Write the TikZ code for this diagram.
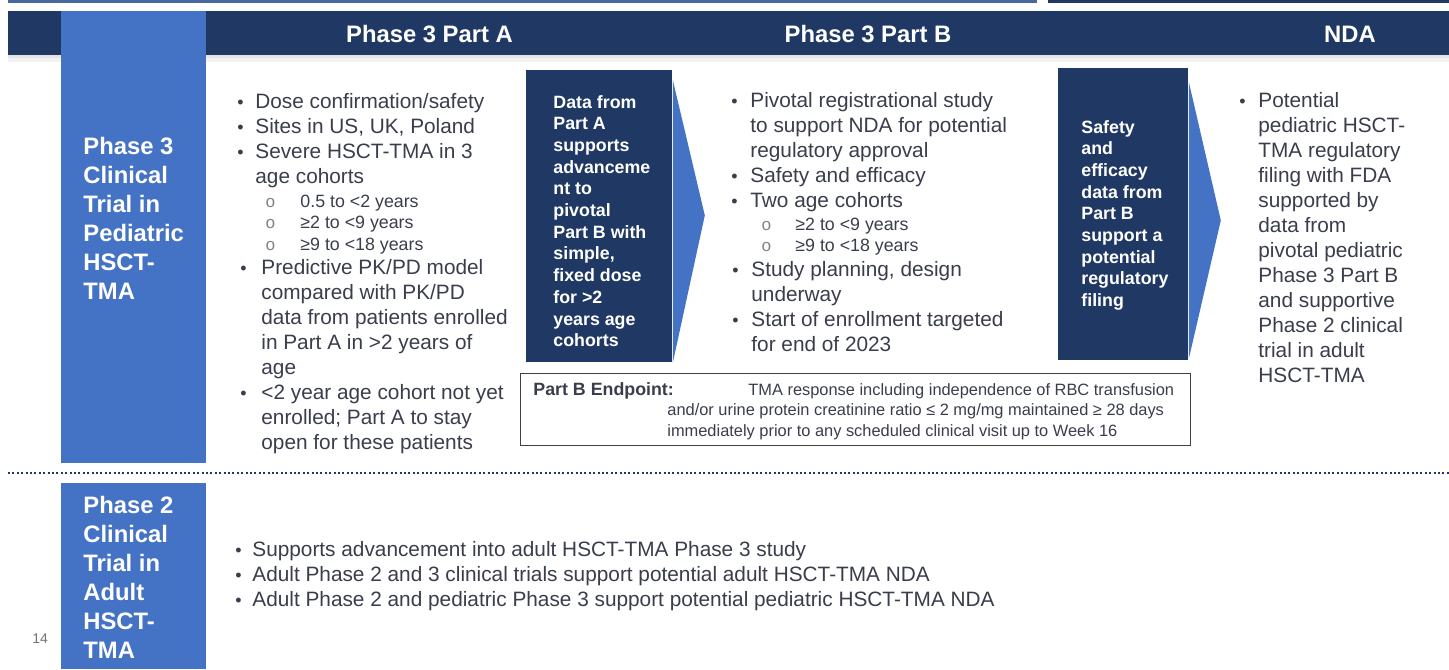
\documentclass[tikz,border=0pt]{standalone}
\usepackage{fontspec}
\setmainfont{Liberation Sans}
\setmonofont{Liberation Mono}
\usetikzlibrary{positioning,calc}

\definecolor{navy}{RGB}{31,56,100}
\definecolor{midblue}{RGB}{68,114,196}
\definecolor{topblue}{RGB}{74,104,160}
\definecolor{bodytext}{RGB}{58,62,76}

% lines stacked from the first baseline down
\newcommand{\leftlines}[1]{\begin{tabular}[t]{@{}l@{}}#1\end{tabular}}

\begin{document}
\begin{tikzpicture}[
    x=0.5pt, y=-0.5pt,
    sidebar/.style={fill=midblue, draw=none, inner sep=0pt, minimum width=72.5pt, anchor=north west},
    stepbox/.style={fill=navy, draw=none, inner sep=0pt, minimum height=146pt, anchor=north west},
    frame/.style={draw=black!75, line width=0.7pt, inner sep=0pt, anchor=north west},
    head/.style={text=white, font=\fontsize{11.9}{14}\selectfont\bfseries, inner sep=0pt, anchor=base},
    side/.style={text=white, font=\fontsize{11.9}{14.5}\selectfont\bfseries, inner sep=0pt, anchor=base west},
    boxtext/.style={text=white, font=\fontsize{8.9}{10.85}\selectfont\bfseries, inner sep=0pt, anchor=base west},
    item/.style={text=bodytext, font=\fontsize{10.4}{12.5}\selectfont, inner sep=0pt, anchor=base west},
    dot/.style={text=bodytext, font=\fontsize{9}{12}\selectfont, inner sep=0pt, anchor=base west},
    subitem/.style={text=bodytext, font=\fontsize{8.9}{10.75}\selectfont, inner sep=0pt, anchor=base west},
    ring/.style={text=bodytext!65, font=\ttfamily\fontsize{8.5}{9}\selectfont, inner sep=0pt, anchor=base west},
    note/.style={text=bodytext, font=\fontsize{8.2}{10.25}\selectfont, inner sep=0pt, anchor=base west}
]
    \useasboundingbox (0,0) rectangle (1449,669);
    \fill[white] (0,0) rectangle (1449,669);

    % top rules and header band
    \draw[topblue, line width=1.2pt] (8,1.5) -- (1037,1.5);
    \draw[navy, line width=1.2pt] (1048,1.5) -- (1449,1.5);
    \fill[navy] (8,11) rectangle (1449,55);
    \fill[black, opacity=0.10] (8,55) rectangle (1449,58);
    \fill[black, opacity=0.05] (8,58) rectangle (1449,62);

    \node[head] (hA) at (429.5,42) {Phase 3 Part A};
    \node[head] (hB) at (868,42) {Phase 3 Part B};
    \node[head] (hN) at (1350,42) {NDA};

    % left columns
    \node[sidebar, minimum height=226pt] (colA) at (61,11) {};
    \node[side] (sA) at ($(colA.north west)+(22,143)$) {\leftlines{Phase 3\\Clinical\\Trial in\\Pediatric\\HSCT-\\TMA}};
    \node[sidebar, minimum height=93pt] (colB) at (61,483) {};
    \node[side] (sB) at ($(colB.north west)+(22,30)$) {\leftlines{Phase 2\\Clinical\\Trial in\\Adult\\HSCT-\\TMA}};
    \node[text=black!55, font=\fontsize{7}{8}\selectfont, inner sep=0pt, anchor=base west] (pg) at (32,643) {14};

    % Part A
    \node[dot] (dA1) at (237,108) {•};
    \node[item] (iA1) at (255,108) {Dose confirmation/safety};
    \node[dot] (dA2) at (237,133) {•};
    \node[item] (iA2) at (255,133) {Sites in US, UK, Poland};
    \node[dot] (dA3) at (237,158) {•};
    \node[item] (iA3) at (255,158) {\leftlines{Severe HSCT-TMA in 3\\age cohorts}};
    \foreach \y/\t in {207/{0.5 to <2 years}, 228/{≥2 to <9 years}, 250/{≥9 to <18 years}} {
        \node[ring] (rA\y) at (265,\y) {o};
        \node[subitem] (uA\y) at (300,\y) {\t};
    }
    \node[dot] (dA4) at (240,274) {•};
    \node[item] (iA4) at (261,274) {\leftlines{Predictive PK/PD model\\compared with PK/PD\\data from patients enrolled\\in Part A in >2 years of\\age}};
    \node[dot] (dA5) at (240,399) {•};
    \node[item] (iA5) at (261,399) {\leftlines{<2 year age cohort not yet\\enrolled; Part A to stay\\open for these patients}};

    % step A -> B
    \node[stepbox, minimum width=73pt] (boxA) at (526,70) {};
    \fill[midblue] ($(boxA.north east)+(0,10)$) -- ($(boxA.east)+(32,-1)$) -- (boxA.south east) -- cycle;
    \node[boxtext] (tA) at ($(boxA.north west)+(27,38)$) {\leftlines{Data from\\Part A\\supports\\advanceme\\nt to\\pivotal\\Part B with\\simple,\\fixed dose\\for >2\\years age\\cohorts}};

    % Part B
    \node[dot] (dB1) at (731,107) {•};
    \node[item] (iB1) at (750,107) {\leftlines{Pivotal registrational study\\to support NDA for potential\\regulatory approval}};
    \node[dot] (dB2) at (731,182) {•};
    \node[item] (iB2) at (750,182) {Safety and efficacy};
    \node[dot] (dB3) at (731,207) {•};
    \node[item] (iB3) at (750,207) {Two age cohorts};
    \foreach \y/\t in {230/{≥2 to <9 years}, 251/{≥9 to <18 years}} {
        \node[ring] (rB\y) at (761,\y) {o};
        \node[subitem] (uB\y) at (795,\y) {\t};
    }
    \node[dot] (dB4) at (732,276) {•};
    \node[item] (iB4) at (751,276) {\leftlines{Study planning, design\\underway}};
    \node[dot] (dB5) at (732,326) {•};
    \node[item] (iB5) at (751,326) {\leftlines{Start of enrollment targeted\\for end of 2023}};

    % step B -> NDA
    \node[stepbox, minimum width=65pt] (boxB) at (1058,68) {};
    \fill[midblue] ($(boxB.north east)+(0,14)$) -- ($(boxB.east)+(32,6)$) -- ($(boxB.south east)+(0,-2)$) -- cycle;
    \node[boxtext] (tB) at ($(boxB.north west)+(23,65)$) {\leftlines{Safety\\and\\efficacy\\data from\\Part B\\support a\\potential\\regulatory\\filing}};

    % NDA
    \node[dot] (dN1) at (1239,107) {•};
    \node[item] (iN1) at (1258,107) {\leftlines{Potential\\pediatric HSCT-\\TMA regulatory\\filing with FDA\\supported by\\data from\\pivotal pediatric\\Phase 3 Part B\\and supportive\\Phase 2 clinical\\trial in adult\\HSCT-TMA}};

    % endpoint box
    \node[frame, minimum width=335pt, minimum height=36pt] (endpt) at (520,373) {};
    \node[note, font=\fontsize{8.9}{10.25}\selectfont\bfseries] (epL) at ($(endpt.north west)+(13,22)$) {Part B Endpoint:};
    \node[note] (ep1) at (748,395) {TMA response including independence of RBC transfusion};
    \node[note] (ep2) at (667,415.5) {\leftlines{and/or urine protein creatinine ratio ≤ 2 mg/mg maintained ≥ 28 days\\immediately prior to any scheduled clinical visit up to Week 16}};

    % divider
    \draw[navy, line width=1pt, dash pattern=on 1pt off 1.2pt] (8,473) -- (1449,473);

    % adult trial
    \foreach \y/\t in {556/{Supports advancement into adult HSCT-TMA Phase 3 study},
                       581/{Adult Phase 2 and 3 clinical trials support potential adult HSCT-TMA NDA},
                       606/{Adult Phase 2 and pediatric Phase 3 support potential pediatric HSCT-TMA NDA}} {
        \node[dot] (dC\y) at (235,\y) {•};
        \node[item] (iC\y) at (252,\y) {\t};
    }
\end{tikzpicture}
\end{document}
